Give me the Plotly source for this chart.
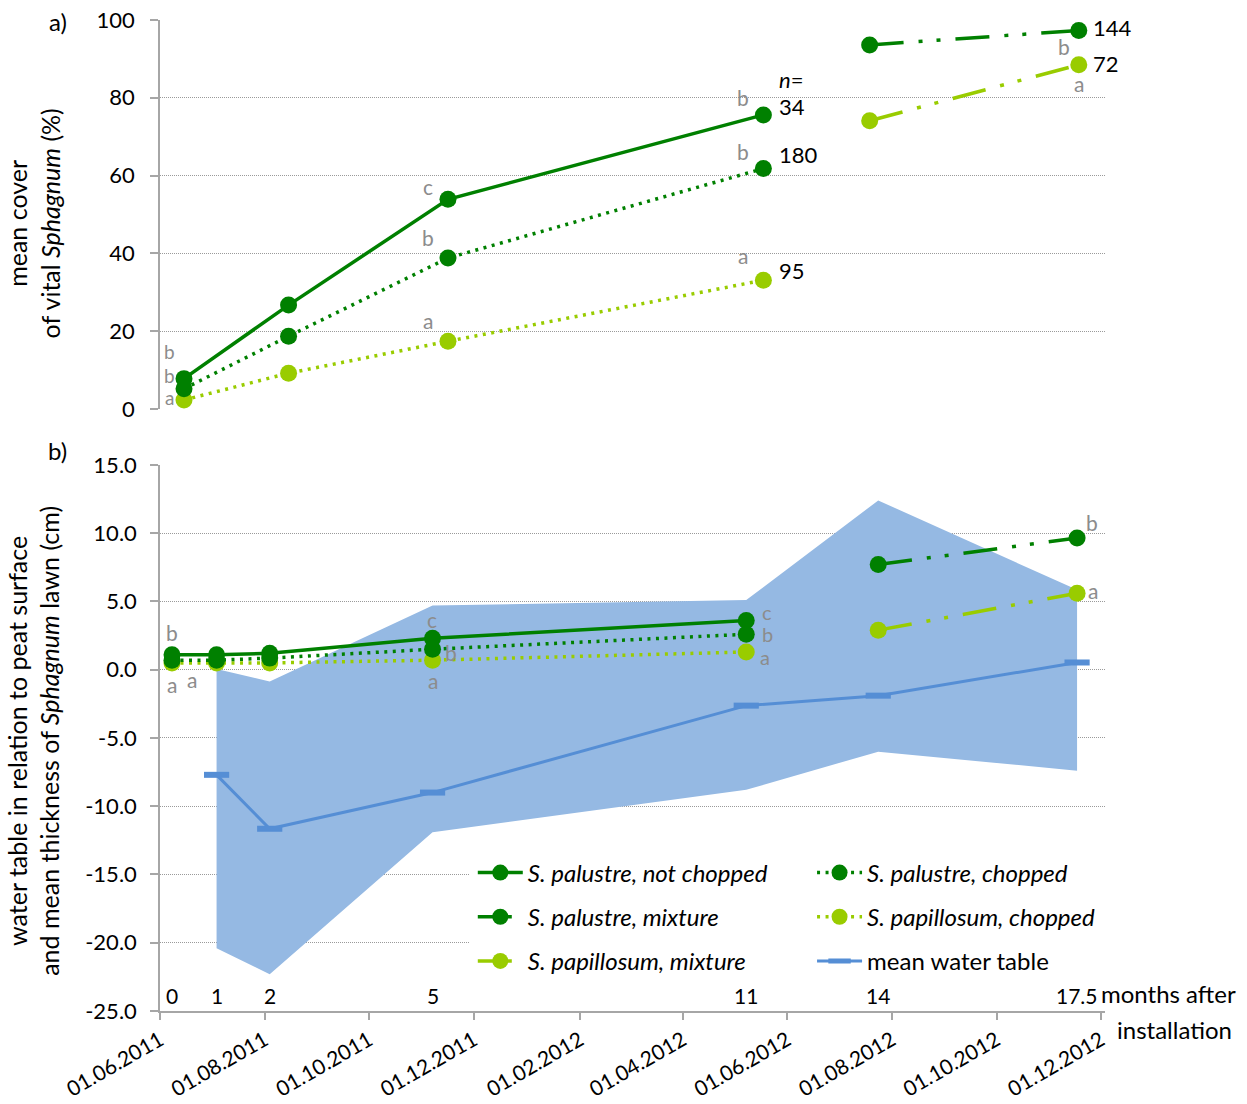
import plotly.graph_objects as go

# ---------------- data ----------------
# Panel a: mean cover of vital Sphagnum (%) at each survey date
cover_dates = ["2011-06-15", "2011-08-15", "2011-11-16", "2012-05-18"]
cover_mix_dates = ["2012-07-19", "2012-11-18"]
cover_pal_not_chopped = [7.8, 26.7, 53.9, 75.6]
cover_pal_chopped = [5.2, 18.7, 38.8, 61.8]
cover_pap_chopped = [2.3, 9.2, 17.4, 33.1]
cover_pal_mixture = [93.6, 97.3]
cover_pap_mixture = [74.1, 88.5]

# Panel b: lawn thickness and water table (cm)
thick_dates = ["2011-06-08", "2011-07-04", "2011-08-04", "2011-11-07", "2012-05-08"]
thick_mix_dates = ["2012-07-24", "2012-11-17"]
thick_pal_not_chopped = [1.1, 1.1, 1.2, 2.3, 3.6]
thick_pal_chopped = [0.7, 0.7, 0.85, 1.5, 2.6]
thick_pap_chopped = [0.5, 0.5, 0.5, 0.7, 1.3]
thick_pal_mixture = [7.7, 9.65]
thick_pap_mixture = [2.9, 5.6]

wt_dates = ["2011-07-04", "2011-08-04", "2011-11-07", "2012-05-08", "2012-07-24", "2012-11-17"]
wt_mean = [-7.7, -11.65, -9.0, -2.63, -1.9, 0.53]
wt_max = [0.05, -0.86, 4.7, 5.1, 12.4, 5.85]
wt_min = [-20.4, -22.3, -11.9, -8.8, -6.0, -7.4]

# months after installation, shown above the date axis
month_dates = ["2011-06-08", "2011-07-04", "2011-08-04", "2011-11-07", "2012-05-08", "2012-07-24", "2012-11-17"]
month_labels = ["0", "1", "2", "5", "11", "14", "17.5"]

# sample sizes n
n_labels = ["34", "180", "95", "144", "72"]

y_b_ticks = [15, 10, 5, 0, -5, -10, -15, -20, -25]
y_b_ticktext = ["15.0", "10.0", "5.0", "0.0", "-5.0", "-10.0", "-15.0", "-20.0", "-25.0"]

names = {
    "nc": "<i>S. palustre, not chopped</i>",
    "pc": "<i>S. palustre, chopped</i>",
    "pm": "<i>S. palustre, mixture</i>",
    "qc": "<i>S. papillosum, chopped</i>",
    "qm": "<i>S. papillosum, mixture</i>",
}

# ---------------- styles ----------------
FONT = "Lato, Carlito, 'DejaVu Sans', sans-serif"
DARK = "#008000"
LIGHT = "#99CC00"
BLUE = "#558ED5"
BAND = "#95B9E3"
GREY = "#8C8C8C"
AXIS = "#A6A6A6"
DOT = "3px,5.5px"
DASHDOTDOT = "34px,15px,4px,14px,4px,15px"

fig = go.Figure()

# water table range (min-max band)
fig.add_trace(go.Scatter(
    x=wt_dates + wt_dates[::-1], y=wt_max + wt_min[::-1],
    fill="toself", fillcolor=BAND, line=dict(width=0), mode="lines",
    hoverinfo="skip", showlegend=False, xaxis="x", yaxis="y"))


def series(x, y, name, color, dash, group, legend, rank, show, xa, ya):
    fig.add_trace(go.Scatter(
        x=x, y=y, name=name, mode="lines+markers",
        line=dict(color=color, width=3.5, dash=dash),
        marker=dict(color=color, size=17, symbol="circle"),
        legendgroup=group, legend=legend, legendrank=rank, showlegend=show,
        xaxis=xa, yaxis=ya))


# panel b series (these carry the legend entries); chopped lines drawn first
series(thick_dates, thick_pap_chopped, names["qc"], LIGHT, DOT, "qc", "legend2", 2, True, "x", "y")
series(thick_dates, thick_pal_chopped, names["pc"], DARK, DOT, "pc", "legend2", 1, True, "x", "y")
series(thick_dates, thick_pal_not_chopped, names["nc"], DARK, "solid", "nc", "legend", 1, True, "x", "y")
series(thick_mix_dates, thick_pal_mixture, names["pm"], DARK, DASHDOTDOT, "pm", "legend", 2, True, "x", "y")
series(thick_mix_dates, thick_pap_mixture, names["qm"], LIGHT, DASHDOTDOT, "qm", "legend", 3, True, "x", "y")

# mean water table
fig.add_trace(go.Scatter(
    x=wt_dates, y=wt_mean, name="mean water table", mode="lines+markers",
    line=dict(color=BLUE, width=3),
    marker=dict(symbol="line-ew", size=18, line=dict(color=BLUE, width=6)),
    legendgroup="wt", legend="legend2", legendrank=3, xaxis="x", yaxis="y"))

# panel a series
series(cover_dates, cover_pap_chopped, names["qc"], LIGHT, DOT, "qc", "legend2", 2, False, "x2", "y2")
series(cover_dates, cover_pal_chopped, names["pc"], DARK, DOT, "pc", "legend2", 1, False, "x2", "y2")
series(cover_dates, cover_pal_not_chopped, names["nc"], DARK, "solid", "nc", "legend", 1, False, "x2", "y2")
series(cover_mix_dates, cover_pal_mixture, names["pm"], DARK, DASHDOTDOT, "pm", "legend", 2, False, "x2", "y2")
series(cover_mix_dates, cover_pap_mixture, names["qm"], LIGHT, DASHDOTDOT, "qm", "legend", 3, False, "x2", "y2")

ann = []


def label(x, y, text, dx, dy, ax="x", ay="y", color=GREY, anchor="center", size=21):
    ann.append(dict(x=x, y=y, xref=ax, yref=ay, text=text, showarrow=False,
                    xshift=dx, yshift=dy, xanchor=anchor, yanchor="middle",
                    font=dict(size=size, color=color, family=FONT)))


# significance letters, panel a
label(cover_dates[0], cover_pal_not_chopped[0], "b", -15, 27, "x2", "y2", size=19)
label(cover_dates[0], cover_pal_chopped[0], "b", -15, 13, "x2", "y2", size=19)
label(cover_dates[0], cover_pap_chopped[0], "a", -15, 3, "x2", "y2", size=19)
label(cover_dates[2], cover_pal_not_chopped[2], "c", -20, 13, "x2", "y2")
label(cover_dates[2], cover_pal_chopped[2], "b", -20, 21, "x2", "y2")
label(cover_dates[2], cover_pap_chopped[2], "a", -20, 21, "x2", "y2")
label(cover_dates[3], cover_pal_not_chopped[3], "b", -20, 17, "x2", "y2")
label(cover_dates[3], cover_pal_chopped[3], "b", -20, 17, "x2", "y2")
label(cover_dates[3], cover_pap_chopped[3], "a", -20, 25, "x2", "y2")
label(cover_mix_dates[1], cover_pal_mixture[1], "b", -15, -16, "x2", "y2")
label(cover_mix_dates[1], cover_pap_mixture[1], "a", 0, -19, "x2", "y2")

# sample sizes, panel a
label(cover_dates[3], cover_pal_not_chopped[3], "<i>n</i>=", 14, 35, "x2", "y2", "black", "left", 22)
label(cover_dates[3], cover_pal_not_chopped[3], n_labels[0], 14, 8, "x2", "y2", "black", "left", 22)
label(cover_dates[3], cover_pal_chopped[3], n_labels[1], 14, 14, "x2", "y2", "black", "left", 22)
label(cover_dates[3], cover_pap_chopped[3], n_labels[2], 14, 10, "x2", "y2", "black", "left", 22)
label(cover_mix_dates[1], cover_pal_mixture[1], n_labels[3], 12, 3, "x2", "y2", "black", "left", 22)
label(cover_mix_dates[1], cover_pap_mixture[1], n_labels[4], 12, 1, "x2", "y2", "black", "left", 22)

# significance letters, panel b
label(thick_dates[0], thick_pal_not_chopped[0], "b", 0, 22)
label(thick_dates[0], thick_pap_chopped[0], "a", 0, -22)
label(thick_dates[1], thick_pap_chopped[1], "a", -25, -17)
label(thick_dates[3], thick_pal_not_chopped[3], "c", -1, 19)
label(thick_dates[3], thick_pal_chopped[3], "b", 18, -3)
label(thick_dates[3], thick_pap_chopped[3], "a", 0, -20)
label(thick_dates[4], thick_pal_not_chopped[4], "c", 21, 9, size=20)
label(thick_dates[4], thick_pal_chopped[4], "b", 21, 0, size=20)
label(thick_dates[4], thick_pap_chopped[4], "a", 19, -5, size=20)
label(thick_mix_dates[1], thick_pal_mixture[1], "b", 15, 15)
label(thick_mix_dates[1], thick_pap_mixture[1], "a", 16, 3)

# months after installation
for d, m in zip(month_dates, month_labels):
    ann.append(dict(x=d, y=-25, xref="x", yref="y", text=m, showarrow=False,
                    xanchor="center", yanchor="bottom", yshift=1,
                    font=dict(size=21, color="black", family=FONT)))
ann.append(dict(x=month_dates[-1], y=-25, xref="x", yref="y", text="months after",
                showarrow=False, xanchor="left", yanchor="bottom", xshift=22, yshift=1,
                font=dict(size=24, color="black", family=FONT)))
ann.append(dict(x=1.1365, y=-0.019, xref="paper", yref="paper", text="installation",
                showarrow=False, xanchor="right", yanchor="middle",
                font=dict(size=24, color="black", family=FONT)))

# panel labels and axis titles
ann.append(dict(x=-0.108, y=0.998, xref="paper", yref="paper", text="a)", showarrow=False,
                xanchor="center", yanchor="middle", font=dict(size=24, color="black", family=FONT)))
ann.append(dict(x=-0.108, y=0.566, xref="paper", yref="paper", text="b)", showarrow=False,
                xanchor="center", yanchor="middle", font=dict(size=24, color="black", family=FONT)))
ann.append(dict(x=-0.134, y=0.795, xref="paper", yref="paper", textangle=-90,
                text="mean cover<br>of vital <i>Sphagnum</i> (%)", showarrow=False,
                xanchor="center", yanchor="middle", font=dict(size=25, color="black", family=FONT)))
ann.append(dict(x=-0.134, y=0.273, xref="paper", yref="paper", textangle=-90,
                text="water table in relation to peat surface<br>and mean thickness of <i>Sphagnum</i> lawn (cm)",
                showarrow=False, xanchor="center", yanchor="middle",
                font=dict(size=25, color="black", family=FONT)))

x_range = ["2011-06-01", "2012-12-03 07:00"]
legend_common = dict(orientation="v", bgcolor="rgba(0,0,0,0)", borderwidth=0,
                     font=dict(size=24, color="black", family=FONT),
                     itemwidth=45, tracegroupgap=10, traceorder="grouped",
                     yanchor="top", xanchor="left", itemclick=False, itemdoubleclick=False)

tick_font = dict(size=22, color="black", family=FONT)

fig.update_layout(
    width=1247, height=1104,
    margin=dict(l=160, r=142, t=20, b=93, autoexpand=False),
    paper_bgcolor="white", plot_bgcolor="white",
    font=dict(family=FONT, size=21, color="black"),
    xaxis=dict(domain=[0, 1], anchor="y", type="date", range=x_range, automargin=False,
               tick0="2011-06-01", dtick="M2", tickformat="%d.%m.%Y", tickangle=-30,
               ticks="outside", ticklen=7, tickcolor=AXIS, tickwidth=1.5,
               showline=True, linecolor=AXIS, linewidth=1.5, showgrid=False,
               tickfont=dict(size=21, color="black", family=FONT)),
    yaxis=dict(domain=[0, 0.551], anchor="x", range=[-25, 15], automargin=False,
               tickvals=y_b_ticks, ticktext=y_b_ticktext,
               ticks="outside", ticklen=8, tickcolor=AXIS, tickwidth=1.5, ticklabelstandoff=9,
               showline=True, linecolor=AXIS, linewidth=1.5, zeroline=False,
               showgrid=True, gridcolor="#9A9A9A", gridwidth=1, griddash="1px,1px",
               tickfont=tick_font),
    xaxis2=dict(domain=[0, 1], anchor="y2", type="date", matches="x", automargin=False,
                showticklabels=False, ticks="", showline=False, showgrid=False),
    yaxis2=dict(domain=[0.6075, 1], anchor="x2", range=[0, 100], dtick=20, tick0=0,
                automargin=False,
                ticks="outside", ticklen=8, tickcolor=AXIS, tickwidth=1.5, ticklabelstandoff=11,
                showline=True, linecolor=AXIS, linewidth=1.5, zeroline=False,
                showgrid=True, gridcolor="#9A9A9A", gridwidth=1, griddash="1px,1px",
                tickfont=tick_font),
    legend=dict(x=0.331, y=0.162, **legend_common),
    legend2=dict(x=0.690, y=0.162, **legend_common),
    annotations=ann,
    shapes=[dict(type="rect", xref="paper", yref="paper", x0=0.328, x1=1.0,
                 y0=0.026, y1=0.1625, fillcolor="white", line=dict(width=0), layer="above")],
)

fig.write_html("out.html")
